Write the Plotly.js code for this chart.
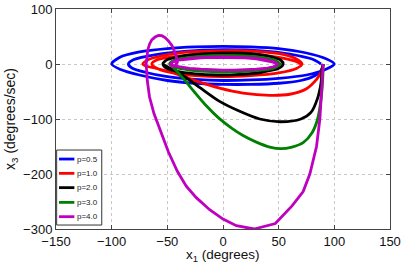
<!DOCTYPE html>
<html>
<head>
<meta charset="utf-8">
<script src="https://cdn.plot.ly/plotly-3.0.1.min.js"></script>
<style>html,body{margin:0;padding:0;background:#fff;}#chart{width:416px;height:269px;}</style>
</head>
<body>
<div id="chart"></div>
<script>
// ---- data ----
var seriesNames = ["p=0.5", "p=1.0", "p=2.0", "p=3.0", "p=4.0"];
var seriesColors = ["#0000ff", "#ff0000", "#000000", "#008000", "#bf00bf"];

var p05_x = [90, 88, 82, 70, 50, 25, 0, -25, -50, -75, -92, -100, -93, -75, -50, -25, 0, 25, 50, 75, 92, 100, 92, 75, 50, 25, 0, -25, -50, -70, -82, -85, -80, -60, -35, 0, 35, 60, 80, 88];
var p05_y = [0, -12, -22, -30, -35, -37, -37, -35, -30, -20, -10, 0, 12, 22, 28, 31, 32, 31, 28, 20, 10, 0, -10, -20, -26, -29, -30, -28, -23, -15, -7, 0, 8, 17, 23, 26, 24, 18, 9, 0];

var p10_x = [90, 88, 84, 75, 60, 42, 18, -3, -27, -45, -60, -70, -72, -68, -55, -30, 0, 30, 55, 67, 71, 66, 50, 25, 0, -25, -45, -58, -64, -60, -45, -20, 0, 25, 50, 65, 70];
var p10_y = [0, -15, -28, -45, -55, -57, -53, -44, -29, -16, -8, -3, 0, 7, 15, 22, 24, 23, 17, 8, 0, -8, -16, -21, -23, -21, -16, -9, 0, 7, 13, 18, 19, 18, 12, 5, 0];

var p20_x = [90, 89, 88, 85, 79, 70, 52, 33, 15, -3, -20, -33, -45, -52, -54, -50, -35, -15, 5, 25, 42, 52, 54, 50, 35, 15, -5, -25, -42, -52, -54, -50, -35, -15, 5, 25, 42, 52, 54];
var p20_y = [0, -10, -35, -62, -88, -100, -105, -100, -86, -68, -44, -25, -10, -3, 0, 8, 15, 19, 20, 19, 14, 7, 0, -8, -15, -19, -20, -18, -13, -6, 0, 8, 15, 19, 20, 19, 14, 7, 0];

var p30_x = [90, 89.5, 88, 85, 80, 72, 62, 52, 42, 30, 18, 8, -4, -15, -26, -35, -42, -46, -48, -44, -30, -10, 10, 30, 45, 51, 45, 30, 10, -10, -30, -43, -48];
var p30_y = [0, -30, -65, -100, -125, -143, -151, -154, -151, -142, -130, -117, -98, -76, -50, -28, -12, -4, 0, 7, 12, 15, 15, 13, 8, 0, -8, -12, -14, -14, -11, -6, 0];

var p40_x = [90, 89, 87, 84, 78, 72, 62, 47, 28, 12, 0, -12, -24, -33, -41, -49, -56, -62, -66, -68, -69, -68.5, -67.5, -66, -64, -61, -58, -55, -52, -49, -46, -44, -42, -41, -43, -46, -47, -45, -40, -30, -20, -10, 0, 10, 20, 30, 38, 44, 47, 49, 48, 45, 40, 30, 20, 10, 0, -10, -20, -30, -38, -44, -47, -45, -40, -30, -20, -10, 0, 10, 20, 30, 38, 44, 47, 48];
var p40_y = [0, -40, -100, -150, -200, -232, -258, -290, -300, -294, -282, -265, -243, -222, -195, -160, -123, -90, -60, -30, 0, 14, 26, 36, 44, 49, 52, 51.5, 48, 42, 34, 25, 14, 3, -3, -4, 0, 4, 7, 10, 11.5, 12.5, 13, 12.5, 11.5, 10, 8, 5, 3, 0, -3, -5, -7.5, -9.5, -10.5, -11, -11, -10.5, -9.5, -8, -6, -3.5, 0, 4, 7, 9.5, 11, 12, 12, 12, 11, 9.5, 7, 4, 2, 0];

var xTicks = [-150, -100, -50, 0, 50, 100, 150];
var yTicks = [-300, -200, -100, 0, 100];
var xTitle = "x<sub>1</sub> (degrees)";
var yTitle = "x<sub>3</sub> (degrees/sec)";

// ---- chart ----
var xs = [p05_x, p10_x, p20_x, p30_x, p40_x];
var ys = [p05_y, p10_y, p20_y, p30_y, p40_y];
var traces = [];
for (var i = 0; i < xs.length; i++) {
  traces.push({
    x: xs[i], y: ys[i], type: "scatter", mode: "lines", name: seriesNames[i],
    line: {color: seriesColors[i], width: 2.8, shape: i === 4 ? "linear" : "spline", smoothing: 0.8},
    showlegend: false, hoverinfo: "skip"
  });
}

var font = "Liberation Sans, Arial, Helvetica, sans-serif";
var shapes = [];
var annotations = [];
// legend box (paper coords)
shapes.push({type: "rect", xref: "paper", yref: "paper", x0: 0.002, x1: 0.137, y0: 0.018, y1: 0.359,
  line: {color: "#333", width: 1}, fillcolor: "#fff", layer: "above"});
var legY = [0.318, 0.253, 0.188, 0.121, 0.056];
for (var j = 0; j < seriesNames.length; j++) {
  shapes.push({type: "line", xref: "paper", yref: "paper", x0: 0.009, x1: 0.055, y0: legY[j], y1: legY[j],
    line: {color: seriesColors[j], width: 2.8}, layer: "above"});
  annotations.push({xref: "paper", yref: "paper", x: 0.058, y: legY[j], xanchor: "left", yanchor: "middle",
    text: seriesNames[j], showarrow: false, font: {family: font, size: 8, color: "#222"}});
}
// x-axis title
annotations.push({xref: "paper", yref: "paper", x: 0.5, y: 0, xanchor: "center", yanchor: "top", yshift: -16,
  text: xTitle, showarrow: false, font: {family: font, size: 13.5, color: "#111"}});

var axisCommon = {
  showgrid: true, gridcolor: "#c8c8c8", griddash: "dot", gridwidth: 1,
  zeroline: false, showline: true, mirror: "ticks", linecolor: "#444", linewidth: 1,
  ticks: "inside", ticklen: 4, tickcolor: "#444",
  tickfont: {family: font, size: 13, color: "#111"}
};

var layout = {
  width: 416, height: 269,
  margin: {l: 56, r: 26, t: 9, b: 40},
  paper_bgcolor: "#fff", plot_bgcolor: "#fff",
  font: {family: font},
  xaxis: Object.assign({}, axisCommon, {
    range: [-150, 150], tickvals: xTicks
  }),
  yaxis: Object.assign({}, axisCommon, {
    range: [-300, 100], tickvals: yTicks,
    title: {text: yTitle, font: {family: font, size: 14, color: "#111"}, standoff: 4}
  }),
  shapes: shapes,
  annotations: annotations,
  showlegend: false
};

Plotly.newPlot("chart", traces, layout, {staticPlot: true, displayModeBar: false});
</script>
</body>
</html>
